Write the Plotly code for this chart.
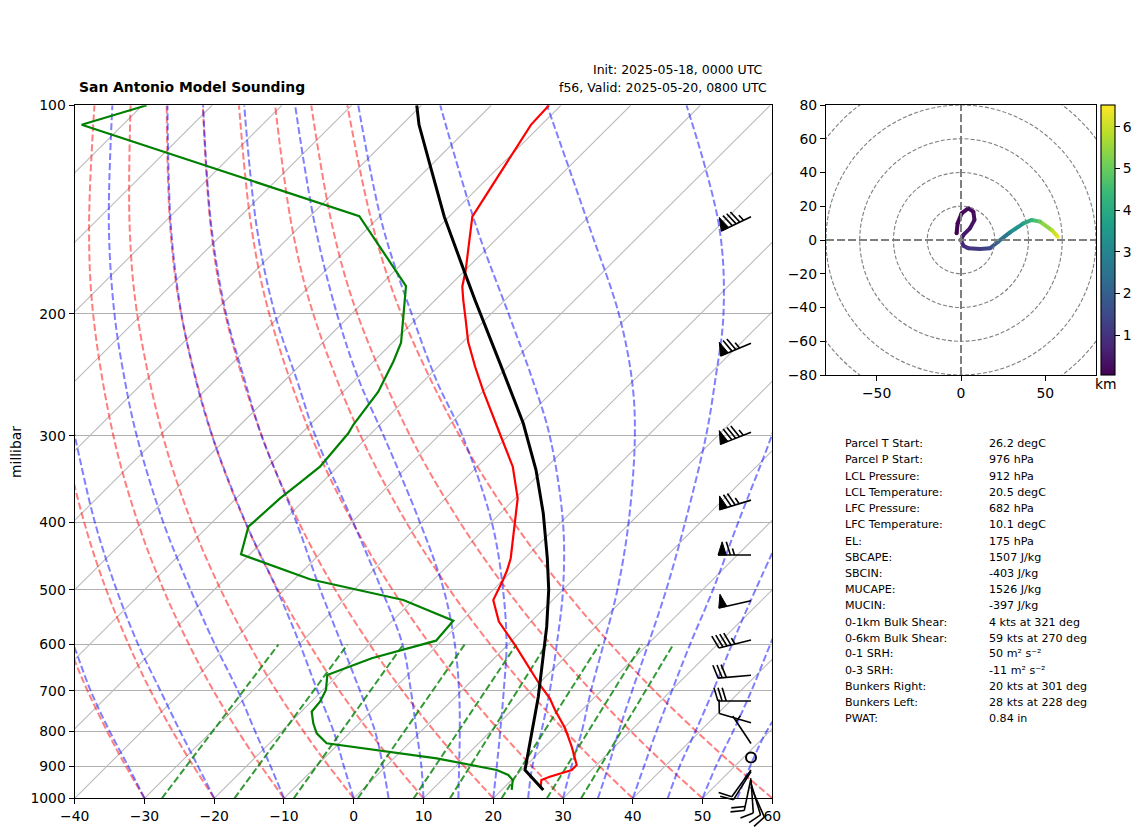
import math

import plotly.graph_objects as go
from plotly.colors import sample_colorscale

WIDTH, HEIGHT = 1142, 838
FONT = "DejaVu Sans"

# Page positions of the panels, in pixels
SKEW_L, SKEW_R, SKEW_T, SKEW_B = 74.7, 772.3, 105.3, 798.3
HODO_L, HODO_R, HODO_T, HODO_B = 826.0, 1096.0, 105.0, 375.0

SKEW_SLOPE = 99.7  # axis units per pressure decade

# Isotherms, every 10 degC
isotherm_temps = list(range(-140, 70, 10))
pressure_ticks = [100, 200, 300, 400, 500, 600, 700, 800, 900, 1000]
temp_ticks = [-40, -30, -20, -10, 0, 10, 20, 30, 40, 50, 60]

# Dry adiabats: position on the skewed axis at each level
dry_levels = [1000, 850, 700, 600, 500, 400, 300, 200, 150, 100]
dry_m30 = [-30, -34, -38.15, -40.9, -43.68, -46.33, -48.63, -49.99, -49.57, -47.53]
dry_m20 = [-20, -24.45, -29.12, -32.25, -35.48, -38.63, -41.54, -43.67, -43.75, -42.35]
dry_m10 = [-10, -14.91, -20.09, -23.61, -27.27, -30.94, -34.45, -37.36, -37.94, -37.17]
dry_0 = [0, -5.36, -11.06, -14.97, -19.07, -23.24, -27.36, -31.05, -32.12, -31.99]
dry_10 = [10, 4.19, -2.03, -6.33, -10.87, -15.54, -20.27, -24.74, -26.3, -26.81]
dry_20 = [20, 13.73, 7.0, 2.31, -2.66, -7.85, -13.18, -18.43, -20.49, -21.63]
dry_30 = [30, 23.28, 16.03, 10.96, 5.54, -0.15, -6.09, -12.11, -14.67, -16.45]
dry_40 = [40, 32.82, 25.06, 19.6, 13.74, 7.55, 1.0, -5.8, -8.85, -11.27]
dry_50 = [50, 42.37, 34.09, 28.24, 21.95, 15.25, 8.09, 0.51, -3.03, -6.09]
dry_60 = [60, 51.92, 43.12, 36.88, 30.15, 22.94, 15.18, 6.82, 2.78, -0.92]
dry_lines = [dry_m30, dry_m20, dry_m10, dry_0, dry_10, dry_20, dry_30, dry_40, dry_50, dry_60]

# Moist adiabats, read the same way
moist_levels = [1000, 900, 800, 700, 600, 500, 400, 300, 250, 200, 150, 100]
moist_m30 = [-30, -32.3, -35, -37.7, -40.2, -43.5]
moist_m20 = [-20, -22.3, -24.9, -27.7, -30.9, -34, -37.1, -40, -41.8, -43.2, -43.8, -43]
moist_m10 = [-10, -11.9, -14.15, -16.6, -19.9, -23.4, -27.3, -31.1, -32.8, -34.3, -35.1, -34.6]
moist_0 = [0, -1.4, -2.9, -5.2, -7.7, -11, -15.5, -20.3, -22.6, -24.7, -26.2, -26.7]
moist_5 = [5, 4.2, 3.05, 0.9, -1.7, -4.8, -8.2, -13.2, -15.6, -18.3, -20.4, -21.6]
moist_10 = [10, 9.7, 9, 8.2, 7, 4, -0.06, -5.5, -8.1, -11.3, -13.9, -15.7]
moist_15 = [15, 15.1, 15.2, 15.1, 14.5, 12.9, 9.5, 4.3, 0.8, -2.4, -5.5, -8.4]
moist_20 = [20, 20.5, 21, 21.5, 21.9, 21.4, 19.8, 15.6, 11.9, 8.3, 4.2, 0.65]
moist_25 = [25, 25.6, 26.9, 28.1, 29.1, 30, 30, 28.1, 25.7, 22.2, 17.6, 12.4]
moist_30 = [30, 31.2, 32.7, 34, 35.8, 37.8, 39.4, 40.3, 39.9, 38, 33.8, 27.7]
moist_35 = [35, 36.5, 38, 39.9, 42.2, 44.8, 47.5, 50.5, 51.8, 53, 52.4, 47.7]
moist_40 = [40, 41.6, 43.4, 45.6, 48.2, 51.5, 55.1, 59.9, 62.5]
moist_45 = [45, 46.7, 49, 51.5, 54.2, 57.6, 62]
moist_50 = [50, 51.9, 54.4, 57, 59.7, 63]
moist_55 = [55, 56.8, 59.2, 63]
moist_lines = [moist_m30, moist_m20, moist_m10, moist_0, moist_5, moist_10, moist_15, moist_20,
               moist_25, moist_30, moist_35, moist_40, moist_45, moist_50, moist_55]

# Mixing ratio lines, 1000 to 600 hPa
mix_levels = [1000, 600]
mix_bottom = [-27.5, -17.1, -8.6, 0.6, 8.6, 13.8, 21.2, 27.7, 32.6]
mix_top = [-10.8, -0.9, 7.1, 15.9, 23.3, 27.6, 35.2, 41.3, 45.8]

# Soundings: pressure and position on the skewed axis
temp_p = [100, 106.7, 144.8, 172.9, 182.7, 191, 204, 219.4, 238.4, 259, 302.3, 332.3,
          369.2, 398.9, 450.4, 468.4, 484.2, 517.5, 556, 600.8, 653, 686.3, 717.4, 745.8, 792.5,
          842.5, 895.3, 910.2, 930.7, 941, 962.2]
temp_x = [27.99, 25.4, 17.0, 16.05, 15.56, 15.7, 16.05, 16.4, 17.4, 18.6, 21.2, 22.8,
          23.5, 23.1, 22.5, 22.0, 21.4, 20, 20.8, 23.1, 25.3, 26.7, 28.1, 28.85, 30.3,
          31.25, 31.96, 31.25, 28.1, 26.9, 26.8]

dewp_p = [100, 106.7, 144.5, 182.3, 220.1, 234.4, 259, 289.1, 297.4, 332.3, 350.4, 369.2, 405.6, 444.6,
          483, 517.5, 554.2, 592.3, 628, 663.7, 697.6, 725.5, 749.9, 779.4, 805.7, 833, 875.6,
          910.2, 925.5, 941, 972.7]
dewp_x = [-29.68, -39.0, 0.8, 7.49, 6.78, 5.67, 3.52, -0.06, -0.78, -4.84, -7.7, -10.57, -15.1, -16.16,
          -6.27, 7.1, 14.27, 11.8, 2.58, -3.79, -3.98, -4.84, -6.03, -5.8, -5.31, -3.88, 11.89,
          20.49, 22.16, 22.79, 22.64]

parcel_p = [100, 106.7, 121.9, 144.8, 174.8, 191, 235.7, 287.6, 336, 388, 450.4, 500, 565.4, 713.6,
            910.2, 972.7]
parcel_x = [9.03, 9.36, 10.93, 12.98, 15.95, 17.38, 20.97, 24.3, 26.13, 27.17, 27.75, 27.95, 27.66, 26.46,
            24.55, 27.17]

# Wind barbs, knots
barb_p = [144.8, 220.4, 296.4, 371.3, 445.6, 518.7, 591, 664.4, 723.9, 777.8, 833.4, 873.2,
          910.2, 915.3, 935.6, 941, 951.4, 963.2]
barb_u = [76.5, 69, 79, 72, 65, 48.7, 43.7, 30, 30, 9.6, 2.8, 0, 5.8, 5.3, 4.1, -0.7, -2.9, -4]
barb_v = [37, 29, 31, 22, 0, 11, 10.9, 2.6, 0, -2.8, -4.2, 0, 8.1, 8.5, 19.6, 10, 9.6, 9]

# Hodograph
hodo_u = [-2.6, -2, 0.4, 4.3, 7.3, 8, 5.3, 1.4, 0, 1.4, 4.3, 11.3, 17.2, 22, 29, 37, 41.9, 46.8, 53.8, 57.3]
hodo_v = [4, 9.9, 15.8, 18.8, 16.8, 11.9, 6.9, 3, 0, -3.4, -4.9, -5.3, -4.9, -1, 4.5, 9.9, 11.9, 10.9, 5.9, 2]
hodo_km = [0.05, 0.1, 0.15, 0.2, 0.25, 0.3, 0.4, 0.5, 0.6, 0.8, 1.0, 1.2, 1.5, 2.2, 3.0, 3.8, 4.3, 5.0, 5.8, 6.3]
hodo_rings = [20, 40, 60, 80, 100]

# Parameter table
param_names = ["Parcel T Start:", "Parcel P Start:", "LCL Pressure:", "LCL Temperature:", "LFC Pressure:",
               "LFC Temperature:", "EL:", "SBCAPE:", "SBCIN:", "MUCAPE:", "MUCIN:", "0-1km Bulk Shear:",
               "0-6km Bulk Shear:", "0-1 SRH:", "0-3 SRH:", "Bunkers Right:", "Bunkers Left:", "PWAT:"]
param_values = ["26.2 degC", "976 hPa", "912 hPa", "20.5 degC", "682 hPa", "10.1 degC", "175 hPa", "1507 J/kg",
                "-403 J/kg", "1526 J/kg", "-397 J/kg", "4 kts at 321 deg", "59 kts at 270 deg",
                "50 m² s⁻²", "-11 m² s⁻²", "20 kts at 301 deg", "28 kts at 228 deg", "0.84 in"]
param_y = [443.3, 460, 476, 492.3, 508.3, 524.3, 541, 557, 573, 589, 605, 622.3, 638.3, 653, 670, 686, 702.7, 718.7]


def skew(temp, pressure):
    return temp + SKEW_SLOPE * math.log10(1000 / pressure)


def pressure_to_page(pressure):
    return SKEW_B - (SKEW_B - SKEW_T) * math.log10(1000 / pressure)


def barb_shapes(px, py, u, v, length=33.0):
    """Return staff/feather line coordinates and flag polygons for one barb."""
    speed = math.hypot(u, v)
    ax, ay = -u / speed, -v / speed
    nx, ny = ay, -ax

    def pt(along, side):
        return px + along * ax + side * nx, py - (along * ay + side * ny)

    height, width, spacing = 0.4 * length, 0.25 * length, 0.125 * length
    n5 = int(round(speed / 5))
    flags, n5 = n5 // 10, n5 % 10
    fulls, half = n5 // 2, n5 % 2

    lines_x, lines_y, flags_x, flags_y = [], [], [], []

    def add(points, xs, ys):
        for x, y in points:
            xs.append(x)
            ys.append(y)
        xs.append(None)
        ys.append(None)

    add([pt(0, 0), pt(length, 0)], lines_x, lines_y)
    pos = length
    for _ in range(flags):
        add([pt(pos, 0), pt(pos - width / 2, height), pt(pos - width, 0), pt(pos, 0)], flags_x, flags_y)
        pos -= width + spacing
    for _ in range(fulls):
        add([pt(pos, 0), pt(pos + width / 2, height)], lines_x, lines_y)
        pos -= spacing
    if half:
        if flags + fulls == 0:
            pos -= 1.5 * spacing
        add([pt(pos, 0), pt(pos + width / 4, height / 2)], lines_x, lines_y)
    return lines_x, lines_y, flags_x, flags_y


fig = go.Figure()

# Skew-T background
for t in isotherm_temps:
    fig.add_trace(go.Scatter(x=[skew(t, 1000), skew(t, 100)], y=[1000, 100], mode="lines",
                             line=dict(color="#bbbbbb", width=1.1)))
for line_x in dry_lines:
    fig.add_trace(go.Scatter(x=line_x, y=dry_levels[:len(line_x)], mode="lines",
                             line=dict(color="rgba(255,0,0,0.5)", width=2, dash="7px,3px", shape="spline")))
for line_x in moist_lines:
    fig.add_trace(go.Scatter(x=line_x, y=moist_levels[:len(line_x)], mode="lines",
                             line=dict(color="rgba(0,0,255,0.5)", width=2, dash="7px,3px", shape="spline")))
for low, high in zip(mix_bottom, mix_top):
    fig.add_trace(go.Scatter(x=[low, high], y=mix_levels, mode="lines",
                             line=dict(color="rgba(0,128,0,0.8)", width=2, dash="7px,3px")))

# Soundings
fig.add_trace(go.Scatter(x=temp_x, y=temp_p, mode="lines", line=dict(color="#ff0000", width=2.2)))
fig.add_trace(go.Scatter(x=dewp_x, y=dewp_p, mode="lines", line=dict(color="#008000", width=2.2)))
fig.add_trace(go.Scatter(x=parcel_x, y=parcel_p, mode="lines", line=dict(color="#000000", width=3)))

# Hodograph: one colored piece per height step
for i in range(len(hodo_km) - 1):
    frac = ((hodo_km[i] + hodo_km[i + 1]) / 2 - 0.04) / (6.52 - 0.04)
    color = sample_colorscale("Viridis", [frac])[0]
    fig.add_trace(go.Scatter(x=hodo_u[i:i + 2], y=hodo_v[i:i + 2], mode="lines", xaxis="x2", yaxis="y2",
                             line=dict(color=color, width=4)))
fig.add_trace(go.Scatter(
    x=hodo_u, y=hodo_v, mode="markers", xaxis="x2", yaxis="y2",
    marker=dict(size=4, color=hodo_km, colorscale="Viridis", cmin=0.04, cmax=6.52, showscale=True,
                colorbar=dict(x=1100.7 / WIDTH, xanchor="left", y=1 - HODO_T / HEIGHT, yanchor="top",
                              len=HODO_B - HODO_T, lenmode="pixels", thickness=13.6, thicknessmode="pixels",
                              xpad=0, ypad=0, tickvals=[1, 2, 3, 4, 5, 6], ticks="outside", ticklen=5,
                              tickcolor="black", tickwidth=1.1, outlinecolor="black", outlinewidth=1.1,
                              tickfont=dict(family=FONT, size=13.9, color="black")))))

# Wind barbs are drawn on a page-sized axis so they can run past the frame
barb_page_x = 751.0
for p, u, v in zip(barb_p, barb_u, barb_v):
    py = pressure_to_page(p)
    if math.hypot(u, v) < 2.5:
        fig.add_trace(go.Scatter(x=[barb_page_x], y=[py], mode="markers", xaxis="x3", yaxis="y3",
                                 marker=dict(size=10, color="rgba(0,0,0,0)", line=dict(color="black", width=2))))
        continue
    lx, ly, fx, fy = barb_shapes(barb_page_x, py, u, v)
    fig.add_trace(go.Scatter(x=lx, y=ly, mode="lines", xaxis="x3", yaxis="y3",
                             line=dict(color="black", width=1.6)))
    if fx:
        fig.add_trace(go.Scatter(x=fx, y=fy, mode="lines", fill="toself", fillcolor="black", xaxis="x3", yaxis="y3",
                                 line=dict(color="black", width=1)))

shapes = []
for r in hodo_rings:
    shapes.append(dict(type="circle", xref="x2", yref="y2", x0=-r, x1=r, y0=-r, y1=r,
                       line=dict(color="#7f7f7f", width=1.1, dash="4px,2px")))
shapes.append(dict(type="line", xref="x2", yref="y2", x0=-80, x1=80, y0=0, y1=0,
                   line=dict(color="#7f7f7f", width=2, dash="8px,3px")))
shapes.append(dict(type="line", xref="x2", yref="y2", x0=0, x1=0, y0=-80, y1=80,
                   line=dict(color="#7f7f7f", width=2, dash="8px,3px")))


def note(text, x, y, size, xanchor="left", weight="normal", angle=0):
    return dict(text=text, x=x / WIDTH, y=1 - y / HEIGHT, xref="paper", yref="paper", showarrow=False,
                xanchor=xanchor, yanchor="middle", textangle=angle, borderpad=0,
                font=dict(family=FONT, size=size, color="black", weight=weight))


annotations = [
    note("San Antonio Model Sounding", 78, 87, 13.9, weight="bold"),
    note("Init: 2025-05-18, 0000 UTC", 764, 70, 12.5, xanchor="right"),
    note("f56, Valid: 2025-05-20, 0800 UTC", 768, 87.5, 12.5, xanchor="right"),
    note("millibar", 16, 452, 13.9, xanchor="center", angle=-90),
    note("km", 1106, 384, 13.9, xanchor="center"),
]
for name, value, y in zip(param_names, param_values, param_y):
    annotations.append(note(name, 843.5, y, 11.1))
    annotations.append(note(value, 987.5, y, 11.1))

axis_style = dict(showline=True, linecolor="black", linewidth=1.3, mirror=True, ticks="outside", ticklen=5,
                  tickcolor="black", tickwidth=1.1, zeroline=False,
                  tickfont=dict(family=FONT, size=13.9, color="black"))

fig.update_layout(
    width=WIDTH, height=HEIGHT, margin=dict(l=0, r=0, t=0, b=0, autoexpand=False), showlegend=False,
    paper_bgcolor="white", plot_bgcolor="rgba(0,0,0,0)", hovermode=False,
    shapes=shapes, annotations=annotations,
    xaxis=dict(domain=[SKEW_L / WIDTH, SKEW_R / WIDTH], range=[-40, 60], tickvals=temp_ticks,
               showgrid=False, anchor="y", **axis_style),
    yaxis=dict(domain=[1 - SKEW_B / HEIGHT, 1 - SKEW_T / HEIGHT], type="log", range=[3, 2],
               tickvals=pressure_ticks, ticktext=[str(p) for p in pressure_ticks],
               showgrid=True, gridcolor="#b0b0b0", gridwidth=1.1, anchor="x", **axis_style),
    xaxis2=dict(domain=[HODO_L / WIDTH, HODO_R / WIDTH], range=[-80, 80], tickvals=[-50, 0, 50],
                showgrid=False, anchor="y2", **axis_style),
    yaxis2=dict(domain=[1 - HODO_B / HEIGHT, 1 - HODO_T / HEIGHT], range=[-80, 80],
                tickvals=list(range(-80, 81, 20)), showgrid=False, anchor="x2", **axis_style),
    xaxis3=dict(domain=[0, 1], range=[0, WIDTH], visible=False, anchor="y3"),
    yaxis3=dict(domain=[0, 1], range=[HEIGHT, 0], visible=False, anchor="x3"),
)

fig.write_html("out.html", config={"displayModeBar": False}, post_script="document.body.style.margin='0';")
